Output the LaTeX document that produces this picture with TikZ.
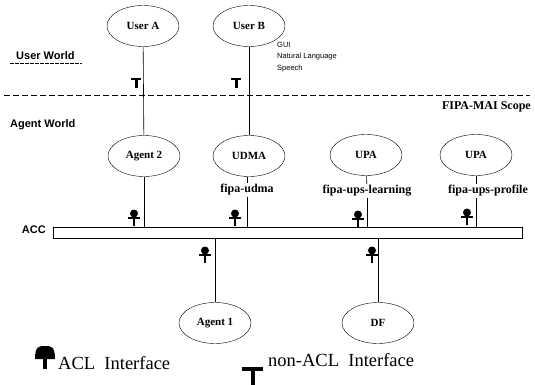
\documentclass[tikz,border=0pt]{standalone}
\usepackage{fontspec}
\setmainfont{Liberation Serif}
\newfontfamily\sansb{Liberation Sans}
\usetikzlibrary{shapes.geometric}
\begin{document}
\begin{tikzpicture}[x=1pt,y=-1pt,
  ell/.style={draw,ellipse,minimum width=72pt,minimum height=41pt,inner sep=0pt,font=\bfseries\fontsize{11}{12}\selectfont},
  wire/.style={draw,line width=0.6pt},
  world/.style={font=\sansb\bfseries\fontsize{11}{12}\selectfont,anchor=west,inner sep=0pt},
  fipalbl/.style={font=\bfseries\fontsize{12}{13}\selectfont,inner sep=1pt},
  tiny/.style={font=\sansb\fontsize{7.5}{8}\selectfont,anchor=west,inner sep=0pt},
  legend/.style={font=\fontsize{18.5}{20}\selectfont,anchor=west,inner sep=0pt},
  acl/.pic={\fill (0,-4.5) circle (4);\fill (-6,-1.2) rectangle (6,0.8);\fill (-1.3,0) rectangle (1.3,8);},
  nonacl/.pic={\fill (-5,-5) rectangle (5,-2.5);\fill (-1.5,-3) rectangle (1.5,5);}
]
\useasboundingbox (0,0) rectangle (535,385);
% nodes
\node[ell] (userA) at (143,26) {User A};
\node[ell] (userB) at (249,26) {User B};
\node[ell] (agent2) at (144,156) {Agent 2};
\node[ell] (udma) at (249,156) {UDMA};
\node[ell] (upa1) at (366,155) {UPA};
\node[ell] (upa2) at (476,155) {UPA};
\node[ell] (agent1) at (215,323) {Agent 1};
\node[ell] (df) at (378,323) {DF};
\node[draw,line width=0.6pt,rectangle,minimum width=469pt,minimum height=11pt,inner sep=0pt] (acc) at (287.5,233) {};
\node[font=\sansb\bfseries\fontsize{11}{12}\selectfont,anchor=east,inner sep=0pt] (acclbl) at (46,230) {ACC};
\node[fipalbl] (l1) at (247,190) {fipa-udma};
\node[fipalbl] (l2) at (367,191) {fipa-ups-learning};
\node[fipalbl] (l3) at (488,191) {fipa-ups-profile};
% world labels
\node[world] (uw) at (16,56) {User World};
\node[world] (aw) at (10,125) {Agent World};
\node[font=\bfseries\fontsize{12}{13}\selectfont,anchor=east,inner sep=0pt] (scope) at (531,107) {FIPA-MAI Scope};
\node[tiny] (gui) at (277,45) {GUI};
\node[tiny] (nl) at (277,57) {Natural Language};
\node[tiny] (sp) at (277,69) {Speech};
\draw[line width=0.5pt,dash pattern=on 4pt off 1pt] (10,63) -- (82,63);
\draw[line width=0.8pt,dash pattern=on 6pt off 3pt] (4,95) -- (530,95);
% connectors
\draw[wire] (userA) -- (agent2);
\draw[wire] (userB) -- (udma);
\draw[wire] (agent2) -- (agent2 |- acc.north);
\draw[wire] (udma.south -| l1) -- (l1);
\draw[wire] (l1) -- (l1 |- acc.north);
\draw[wire] (upa1) -- (l2);
\draw[wire] (l2) -- (l2 |- acc.north);
\draw[wire] (upa2) -- (upa2 |- l3.north);
\draw[wire] (upa2 |- l3.south) -- (upa2 |- acc.north);
\draw[wire] (acc.south -| agent1) -- (agent1);
\draw[wire] (acc.south -| df) -- (df);
% interface symbols
\pic at (136,83) {nonacl};
\pic at (236,83) {nonacl};
\pic at (134,218) {acl};
\pic at (235,218) {acl};
\pic at (358,219) {acl};
\pic at (467,217) {acl};
\pic at (205,255) {acl};
\pic at (372,255) {acl};
% legend
\fill (35,359) .. controls (35,346) and (39,346) .. (45,346) .. controls (51,346) and (55,346) .. (55,359) -- cycle;
\fill (43,358) rectangle (47,369);
\node[legend] (acllbl) at (58,363) {ACL\ \ Interface};
\fill (242,367) rectangle (263,371);
\fill (250.5,369) rectangle (254.5,385);
\node[legend] (nacllbl) at (268,360) {non-ACL\ \ Interface};
\end{tikzpicture}
\end{document}
